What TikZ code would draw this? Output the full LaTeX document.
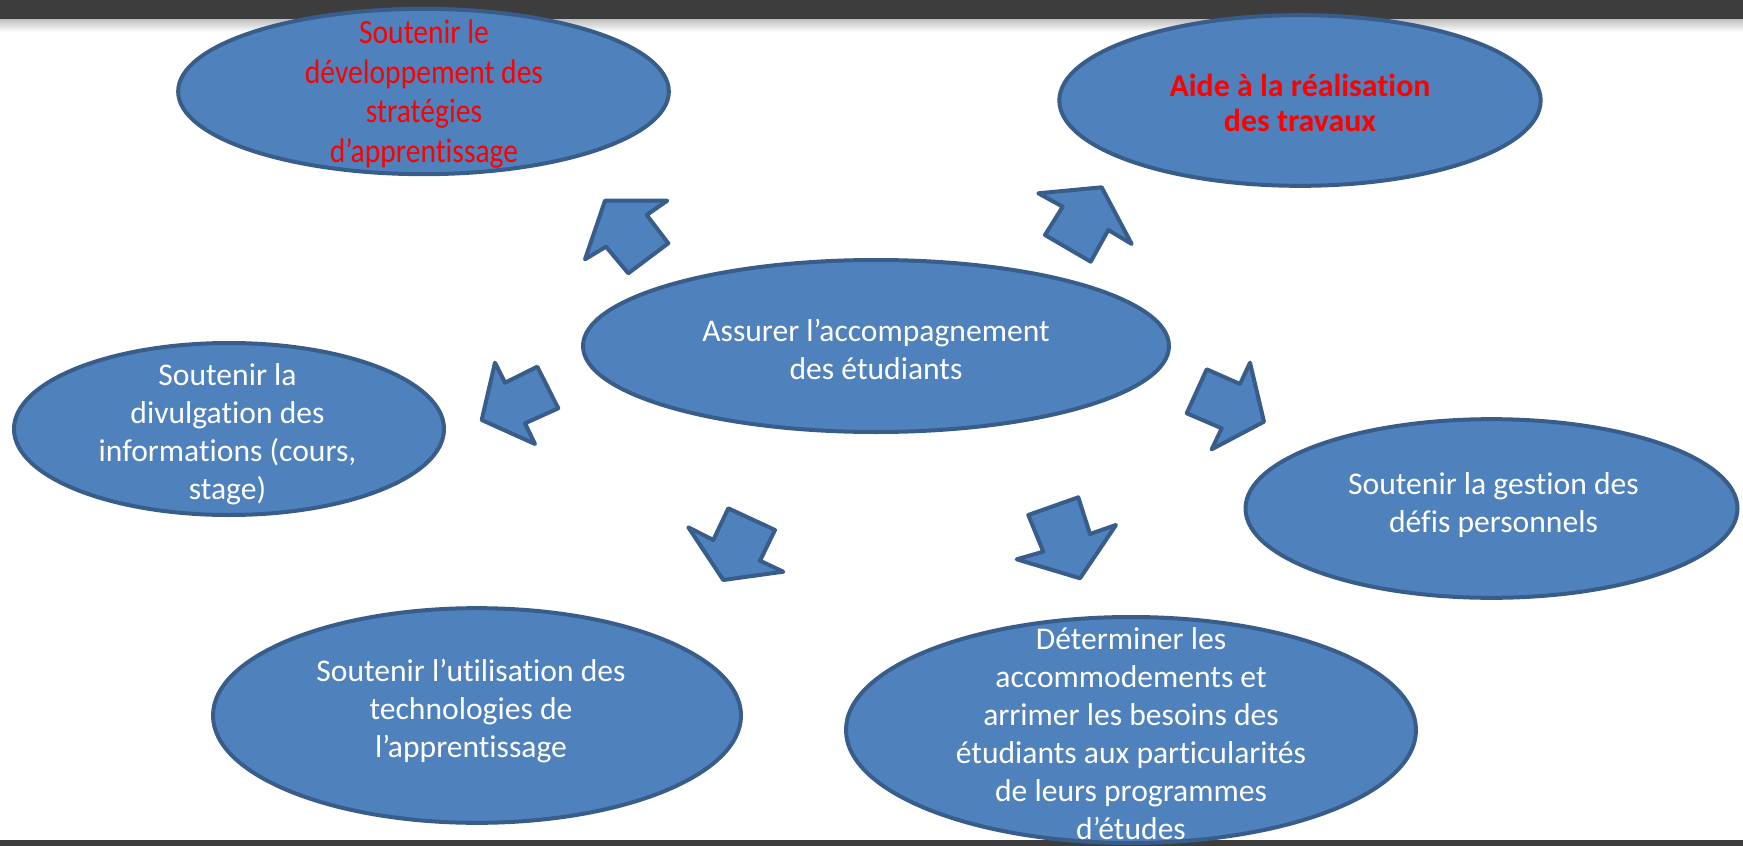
\documentclass[tikz,border=0pt]{standalone}
\usepackage{fontspec}
\setmainfont{Carlito}[Ligatures=NoCommon]
\newfontfamily\etroite[FakeStretch=0.87,Ligatures=NoCommon]{Carlito}
\usepackage{tikz}
\usetikzlibrary{shapes}

\begin{document}
\begin{tikzpicture}[x=0.75pt,y=0.75pt,yscale=-1,xscale=1,
  bulle/.style={ellipse,draw={rgb, 255:red, 56; green, 93; blue, 138},line width=3pt,fill={rgb, 255:red, 79; green, 129; blue, 189},inner sep=0pt,outer sep=0pt},
  fleche/.style={draw={rgb, 255:red, 56; green, 93; blue, 138},line width=3pt,line join=round,fill={rgb, 255:red, 79; green, 129; blue, 189}},
  texteblanc/.style={text=white,align=center,inner sep=0pt,font=\fontsize{23.7}{28.5}\selectfont},
  texterouge/.style={text={rgb, 255:red, 255; green, 0; blue, 0},align=center,inner sep=0pt}]
\useasboundingbox (0,0) rectangle (1743,846);
%barres
\fill [fill={rgb, 255:red, 61; green, 61; blue, 61}] (0,0) rectangle (1743,19);
\shade [top color={rgb, 255:red, 190; green, 190; blue, 190}, bottom color=white] (0,19) rectangle (1743,32);
\fill [fill={rgb, 255:red, 61; green, 61; blue, 61}] (0,840) rectangle (1743,846);

%bulles
\node [bulle, minimum width=368pt, minimum height=124pt] (strat) at (423.5,91.5) {};
\node [bulle, minimum width=361pt, minimum height=128pt] (travaux) at (1300,100.5) {};
\node [bulle, minimum width=439.5pt, minimum height=129pt] (centre) at (876,346) {};
\node [bulle, minimum width=322.5pt, minimum height=129pt] (infos) at (229,429) {};
\node [bulle, minimum width=369pt, minimum height=134pt] (defis) at (1491.5,508.5) {};
\node [bulle, minimum width=396pt, minimum height=161pt] (techno) at (477,715.5) {};
\node [bulle, minimum width=427.5pt, minimum height=169.5pt] (accom) at (1131,730) {};

%fleches
\draw [fleche] (605,200.7) -- (667.3,200.7) -- (646.7,215) -- (668.3,243.3) -- (628.3,273.3) -- (606,246.7) -- (585,259.3) -- cycle ;
\draw [fleche] (1101.7,187.3) -- (1131.7,244) -- (1108.3,230) -- (1090.7,261.7) -- (1045,235) -- (1062.7,206.7) -- (1038.3,193.3) -- cycle ;
\draw [fleche] (481.7,420) -- (495,362.7) -- (505,382.7) -- (537.3,366.7) -- (558.3,408.3) -- (525,423.3) -- (535,444) -- cycle ;
\draw [fleche] (1264,421.7) -- (1250,362.7) -- (1240,384) -- (1206.7,369.3) -- (1186.7,413.3) -- (1221.7,428.3) -- (1211.7,449.3) -- cycle ;
\draw [fleche] (723.3,580) -- (688.3,527.3) -- (713.3,540) -- (728.3,508.3) -- (775,530) -- (760,560.7) -- (783.3,571.7) -- cycle ;
\draw [fleche] (1080,578.3) -- (1016.7,559.3) -- (1043.3,551.7) -- (1028.3,515) -- (1078.3,497.3) -- (1090,534) -- (1116,525) -- cycle ;

%textes
\node [texterouge, font=\etroite\fontsize{25.5}{29.7}\selectfont] (tstrat) at (424,94) {Soutenir le\\développement des\\stratégies\\d’apprentissage};
\node [texterouge, font=\bfseries\fontsize{23.9}{25.9}\selectfont] (ttravaux) at (1300,102.8) {Aide à la réalisation\\des travaux};
\node [texteblanc] (tcentre) at (876,349.5) {Assurer l’accompagnement\\des étudiants};
\node [texteblanc] (tinfos) at (227.5,434) {Soutenir la\\divulgation des\\informations (cours,\\stage)};
\node [texteblanc] (tdefis) at (1493.5,505) {Soutenir la gestion des\\défis personnels};
\node [texteblanc] (ttechno) at (471,711.4) {Soutenir l’utilisation des\\technologies de\\l’apprentissage};
\node [texteblanc] (taccom) at (1131,733.3) {Déterminer les\\accommodements et\\arrimer les besoins des\\étudiants aux particularités\\de leurs programmes\\d’études};

\end{tikzpicture}
\end{document}
